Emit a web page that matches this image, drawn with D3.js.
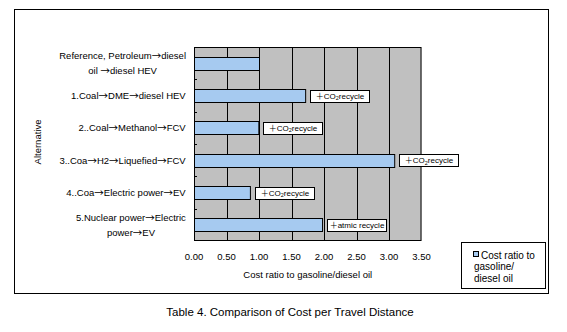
<!DOCTYPE html>
<html><head><meta charset="utf-8">
<script src="https://cdn.jsdelivr.net/npm/d3@7"></script>
<style>body{margin:0;background:#fff}svg{display:block}text{font-family:"Liberation Sans",Arial,sans-serif;fill:#000}.cj{font-family:"Noto Sans CJK JP",sans-serif}</style>
</head><body><svg id="c" width="567" height="332"></svg>
<script>
const categories = ["Reference, Petroleum→diesel|oil →diesel HEV","1.Coal→DME→diesel HEV","2..Coal→Methanol→FCV","3..Coa→H2→Liquefied→FCV","4..Coa→Electric power→EV","5.Nuclear power→Electric|power→EV"];
const values = [1.00, 1.71, 0.99, 3.08, 0.86, 1.97];
const notes = ["", "＋CO2recycle", "＋CO2recycle", "＋CO2recycle", "＋CO2recycle", "＋atmic recycle"];
const xTicks = [0, 0.5, 1.0, 1.5, 2.0, 2.5, 3.0, 3.5];
const seriesName = ["Cost ratio to", "gasoline/", "diesel oil"];
const xTitle = "Cost ratio to gasoline/diesel oil";
const yTitle = "Alternative";
const caption = "Table 4. Comparison of Cost per Travel Distance";

const svg = d3.select("#c");
const L=194, R=421.5, T=47, B=241;
const x = d3.scaleLinear().domain([0,3.5]).range([L,R]);
const y = d3.scaleBand().domain(categories).range([T,B]).paddingInner(0.6).paddingOuter(0.3);

// add text with CJK-font arrows
function richText(sel, str){
  str.split(/(→|＋)/).forEach(p=>{
    if(!p) return;
    const ts = sel.append("tspan").text(p);
    if(p==="→"||p==="＋") ts.attr("class","cj");
  });
}

svg.append("rect").attr("x",14.5).attr("y",9.5).attr("width",534).attr("height",284).attr("fill","#fff").attr("stroke","#000");
svg.append("rect").attr("x",L).attr("y",T).attr("width",R-L).attr("height",B-T).attr("fill","#c0c0c0");
svg.append("g").selectAll("line").data(xTicks.slice(1,-1)).join("line")
  .attr("x1",d=>Math.round(x(d))+0.5).attr("x2",d=>Math.round(x(d))+0.5).attr("y1",T).attr("y2",B)
  .attr("stroke","#000").attr("stroke-width",1);
svg.append("rect").attr("x",L+0.5).attr("y",T+0.5).attr("width",R-L-1).attr("height",B-T-1).attr("fill","none").attr("stroke","#000");
const step = y.step();
svg.append("g").selectAll("line").data(categories.slice(1)).join("line")
  .attr("x1",L).attr("x2",L+3)
  .attr("y1",d=>Math.round(y(d)+y.bandwidth()/2-step/2)+0.5)
  .attr("y2",d=>Math.round(y(d)+y.bandwidth()/2-step/2)+0.5)
  .attr("stroke","#000");
svg.append("g").selectAll("rect").data(values).join("rect")
  .attr("x",x(0)+0.5).attr("y",(d,i)=>Math.round(y(categories[i]))+0.5)
  .attr("width",d=>x(d)-x(0)).attr("height",Math.round(y.bandwidth()))
  .attr("fill","#a6caf0").attr("stroke","#000");
const ng = svg.append("g");
notes.forEach((n,i)=>{
  if(!n) return;
  const cy = y(categories[i])+y.bandwidth()/2;
  const bx = Math.round(x(values[i]))+5;
  ng.append("rect").attr("x",bx+0.5).attr("y",Math.round(cy-6)+0.5).attr("width",59).attr("height",12)
    .attr("fill","#fff").attr("stroke","#000");
  const t = ng.append("text").attr("x",bx+30).attr("y",cy+3).attr("text-anchor","middle").attr("font-size",8);
  const parts = n.split("CO2");
  if(parts.length>1){
    richText(t, parts[0]); t.append("tspan").text("CO");
    t.append("tspan").attr("font-size",5.5).attr("dy",1.5).text("2");
    t.append("tspan").attr("dy",-1.5).text(parts[1]);
  } else richText(t, n);
});
const lg = svg.append("g");
categories.forEach(c=>{
  const lines = c.split("|");
  const cy = y(c)+y.bandwidth()/2;
  const t = lg.append("text").attr("font-size",9.5).attr("text-anchor","middle");
  lines.forEach((ln,k)=>{
    const ts = t.append("tspan").attr("x",0).attr("y",cy+3.5+(k-(lines.length-1)/2)*14.5);
    richText(ts, ln);
  });
  const bb = t.node().getBBox();
  t.attr("transform",`translate(${186-bb.width/2},0)`);
});
svg.append("g").selectAll("text").data(xTicks).join("text")
  .attr("x",d=>x(d)).attr("y",260).attr("text-anchor","middle").attr("font-size",9.5)
  .text(d=>d3.format(".2f")(d));
svg.append("text").attr("x",(L+R)/2).attr("y",277.5).attr("text-anchor","middle").attr("font-size",9.5).text(xTitle);
svg.append("text").attr("transform","translate(41,142) rotate(-90)").attr("text-anchor","middle").attr("font-size",9.5).text(yTitle);
svg.append("rect").attr("x",461.5).attr("y",242.5).attr("width",84).attr("height",46).attr("fill","#fff").attr("stroke","#000");
svg.append("rect").attr("x",473.5).attr("y",251.5).attr("width",5).attr("height",5).attr("fill","#a6caf0").attr("stroke","#000");
seriesName.forEach((s,k)=>{
  svg.append("text").attr("x",k===0?481:474).attr("y",258.5+k*11.5).attr("font-size",10).text(s);
});
svg.append("text").attr("x",290).attr("y",316).attr("text-anchor","middle").attr("font-size",11.5).text(caption);
</script></body></html>
